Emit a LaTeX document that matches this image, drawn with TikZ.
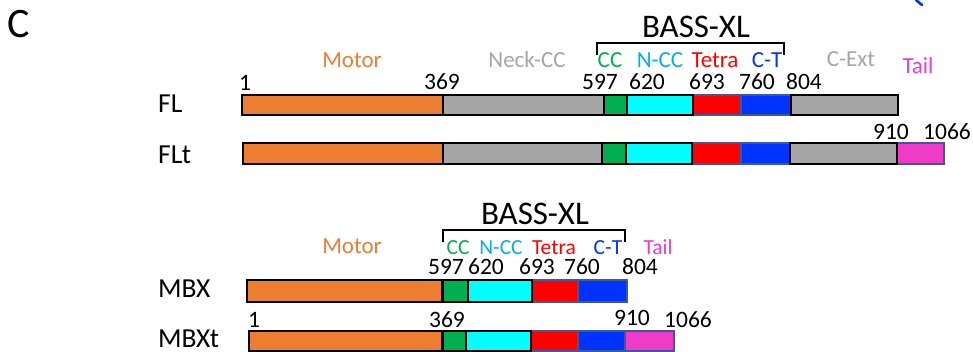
\documentclass[tikz,border=0pt]{standalone}
\usepackage{fontspec}
\setmainfont{Carlito}
\definecolor{motorc}{RGB}{237,125,49}
\definecolor{neckc}{RGB}{166,166,166}
\definecolor{ccc}{RGB}{0,176,80}
\definecolor{nccc}{RGB}{0,255,255}
\definecolor{ncctext}{RGB}{0,176,240}
\definecolor{tetrac}{RGB}{255,0,0}
\definecolor{ctc}{RGB}{0,51,255}
\definecolor{tailc}{RGB}{238,59,200}
\definecolor{edgeb}{RGB}{58,90,154}
\newcommand\seg[6]{\node[#2, minimum width={(#4-#3)*1pt}, minimum height={#6*1pt}, anchor=west] (#1) at (#3,#5) {};}
\begin{document}
\begin{tikzpicture}[x=1pt,y=-1pt,
  box/.style={inner sep=0pt, outer sep=0pt, line width=2.6pt, draw=black},
  bluebox/.style={inner sep=0pt, outer sep=0pt, line width=1.5pt, draw=edgeb},
  num/.style={inner sep=0pt, anchor=base, font=\fontsize{23.5}{26}\selectfont},
  lab/.style={inner sep=0pt, anchor=base, font=\fontsize{23}{26}\selectfont},
  slab/.style={inner sep=0pt, anchor=base, font=\fontsize{21.5}{24}\selectfont},
  row/.style={inner sep=0pt, anchor=base west, font=\fontsize{27.5}{30}\selectfont},
  bass/.style={inner sep=0pt, anchor=base, font=\fontsize{33}{36}\selectfont},
  brk/.style={line width=2.2pt}]
\useasboundingbox (0,0) rectangle (973,352);

% panel letter
\node[inner sep=0pt, anchor=base west, font=\fontsize{42}{45}\selectfont] (panel) at (7,38) {C};
\draw[ctc, line width=2.6pt, line cap=round] (916,0) -- (922,5);

% ---------- FL ----------
\node[row] (nFL) at (158,113) {FL};
\seg{flte}{bluebox, fill=tetrac}{693}{741}{105}{20}
\seg{flct}{bluebox, fill=ctc}{741}{791}{105}{20}
\seg{flmo}{box, fill=motorc}{242}{443}{105}{20}
\seg{flne}{box, fill=neckc}{443}{604}{105}{20}
\seg{flcc}{box, fill=ccc}{604}{627}{105}{20}
\seg{flnc}{box, fill=nccc}{627}{693}{105}{20}
\seg{flce}{box, fill=neckc}{791}{898}{105}{20}

\node[num] (fl1) at (245,91) {1};
\node[num] (fl369) at (442,90) {369};
\node[num] (fl597) at (600,90) {597};
\node[num] (fl620) at (647,90) {620};
\node[num] (fl693) at (707,90) {693};
\node[num] (fl760) at (757,90) {760};
\node[num] (fl804) at (804,90) {804};

\node[lab, text=motorc] (lMotor) at (352,68) {Motor};
\node[lab, text=neckc] (lNeck) at (527,68) {Neck-CC};
\node[lab, text=ccc] (lCC) at (610,68) {CC};
\node[lab, text=ncctext] (lNCC) at (660,68) {N-CC};
\node[lab, text=tetrac] (lTetra) at (715,68) {Tetra};
\node[lab, text=ctc] (lCT) at (767,68) {C-T};
\node[lab, text=neckc] (lCExt) at (851,67) {C-Ext};
\node[lab, text=tailc] (lTail) at (918,74) {Tail};

\node[bass] (bassA) at (696,38) {BASS-XL};
\coordinate (bA1) at (597,55);
\coordinate (bA2) at (784,55);
\draw[brk] (bA1) -- ++(0,-12) -| (bA2);

% ---------- FLt ----------
\node[row] (nFLt) at (158,164) {FLt};
\seg{fltte}{bluebox, fill=tetrac}{692}{741}{153.5}{21}
\seg{fltct}{bluebox, fill=ctc}{741}{790}{153.5}{21}
\seg{flttl}{bluebox, fill=tailc}{897}{944}{153.5}{21}
\seg{fltmo}{box, fill=motorc}{243}{443}{153.5}{21}
\seg{fltne}{box, fill=neckc}{443}{602}{153.5}{21}
\seg{fltcc}{box, fill=ccc}{602}{626}{153.5}{21}
\seg{fltnc}{box, fill=nccc}{626}{692}{153.5}{21}
\seg{fltce}{box, fill=neckc}{790}{897}{153.5}{21}

\node[num] (flt910) at (891,140) {910};
\node[num] (flt1066) at (947,140) {1066};

% ---------- MBX ----------
\node[row] (nMBX) at (158,297) {MBX};
\seg{mbte}{bluebox, fill=tetrac}{532}{578}{291}{22}
\seg{mbct}{bluebox, fill=ctc}{578}{627}{291}{22}
\seg{mbmo}{box, fill=motorc}{247}{442}{291}{22}
\seg{mbcc}{box, fill=ccc}{443}{468}{291}{22}
\seg{mbnc}{box, fill=nccc}{468}{532}{291}{22}

\node[num] (mb597) at (446,275) {597};
\node[num] (mb620) at (486,275) {620};
\node[num] (mb693) at (537,275) {693};
\node[num] (mb760) at (582,275) {760};
\node[num] (mb804) at (640,275) {804};

\node[lab, text=motorc] (mMotor) at (352,254) {Motor};
\node[slab, text=ccc] (mCC) at (458,255) {CC};
\node[slab, text=ncctext] (mNCC) at (501,255) {N-CC};
\node[slab, text=tetrac] (mTetra) at (554,255) {Tetra};
\node[slab, text=ctc] (mCT) at (608,255) {C-T};
\node[slab, text=tailc] (mTail) at (658,255) {Tail};

\node[bass] (bassB) at (535,225) {BASS-XL};
\coordinate (bB1) at (443,242);
\coordinate (bB2) at (625,242);
\draw[brk] (bB1) -- ++(0,-12) -| (bB2);

% ---------- MBXt ----------
\node[row] (nMBXt) at (158,347) {MBXt};
\seg{mtte}{bluebox, fill=tetrac}{531}{578}{341}{20}
\seg{mtct}{bluebox, fill=ctc}{578}{625}{341}{20}
\seg{mttl}{bluebox, fill=tailc}{625}{674}{341}{20}
\seg{mtmo}{box, fill=motorc}{249}{442}{341}{20}
\seg{mtcc}{box, fill=ccc}{443}{466}{341}{20}
\seg{mtnc}{box, fill=nccc}{466}{531}{341}{20}

\node[num] (mt1) at (254,327) {1};
\node[num] (mt369) at (447,327) {369};
\node[num] (mt910) at (632,325) {910};
\node[num] (mt1066) at (688,327) {1066};
\end{tikzpicture}
\end{document}
